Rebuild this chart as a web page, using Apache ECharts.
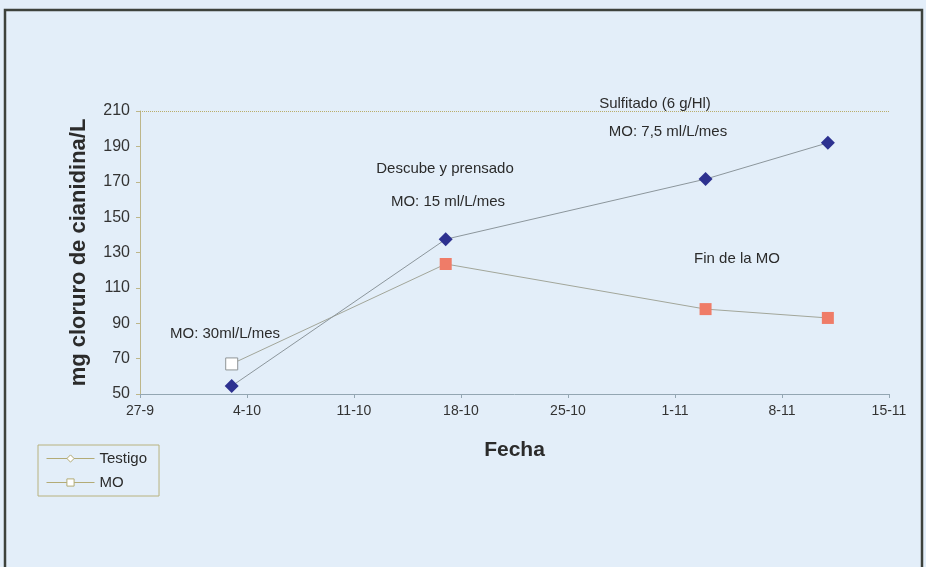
<!DOCTYPE html>
<html>
<head>
<meta charset="utf-8">
<script src="https://cdn.jsdelivr.net/npm/echarts@6/dist/echarts.min.js"></script>
<style>
  html, body { margin: 0; padding: 0; background: #e3eef9; }
  #chart { width: 926px; height: 567px; }
</style>
</head>
<body>
<div id="chart"></div>
<script>
// fechas de muestreo (dia-mes) y valores
const xTickLabels = ['27-9', '4-10', '11-10', '18-10', '25-10', '1-11', '8-11', '15-11'];
const sampleDates = ['3-10', '17-10', '3-11', '11-11'];
const testigo = [54.5, 137.5, 171.5, 192];
const mo = [67, 123.5, 98, 93];

// dias desde el 27-9
const dayOf = (s) => {
  const [d, m] = s.split('-').map(Number);
  return (Date.UTC(2000, m - 1, d) - Date.UTC(2000, 8, 27)) / 86400000;
};
const days = sampleDates.map(dayOf);

const testigoData = days.map((d, i) => [d, testigo[i]]);
const moData = days.map((d, i) => {
  if (i === 0) {
    return { value: [d, mo[i]], itemStyle: { color: '#ffffff', borderColor: '#8f9496', borderWidth: 1 } };
  }
  return [d, mo[i]];
});

const FONT = "'Liberation Sans', Arial, sans-serif";
const myChart = echarts.init(document.getElementById('chart'), null, { renderer: 'canvas' });

const note = (text, x, y) => ({
  type: 'text', x, y,
  style: {
    text, fontFamily: FONT, fontSize: 15, fill: '#2b2b2b',
    align: 'center', verticalAlign: 'middle',
  },
});

const option = {
  backgroundColor: '#e3eef9',
  animation: false,
  textStyle: { fontFamily: FONT },
  grid: { left: 140, right: 37, top: 111, bottom: 173 },
  legend: {
    left: 38, top: 445,
    orient: 'vertical',
    itemWidth: 48, itemHeight: 9, itemGap: 9,
    padding: [6, 12, 6, 8],
    borderColor: '#b8b27e', borderWidth: 1,
    textStyle: { fontSize: 15, color: '#2b2b2b', fontFamily: FONT },
    itemStyle: { color: '#ffffff', borderColor: '#b3ab76', borderWidth: 1 },
    lineStyle: { color: '#b3ab76', width: 1 },
    data: ['Testigo', 'MO'],
  },
  xAxis: {
    type: 'value',
    min: 0, max: 49, interval: 7,
    name: 'Fecha',
    nameLocation: 'middle',
    nameGap: 46,
    nameTextStyle: { fontSize: 21, fontWeight: 'bold', color: '#2b2b2b', fontFamily: FONT },
    axisLine: { lineStyle: { color: '#93a6b2', width: 1 } },
    axisTick: { show: true, length: 4, lineStyle: { color: '#93a6b2' } },
    axisLabel: {
      fontSize: 14, color: '#333', margin: 10, fontFamily: FONT,
      formatter: (v) => xTickLabels[Math.round(v / 7)],
    },
    splitLine: { show: false },
  },
  yAxis: {
    type: 'value',
    min: 50, max: 210, interval: 20,
    name: 'mg cloruro de cianidina/L',
    nameLocation: 'middle',
    nameGap: 50,
    nameTextStyle: { fontSize: 22, fontWeight: 'bold', color: '#2b2b2b', fontFamily: FONT },
    axisLine: { show: true, lineStyle: { color: '#bdb68a', width: 1 } },
    axisTick: { show: true, length: 4, lineStyle: { color: '#bdb68a' } },
    axisLabel: { fontSize: 16, color: '#333', margin: 10, fontFamily: FONT },
    splitLine: { show: false },
  },
  series: [
    {
      name: 'Testigo',
      type: 'line',
      data: testigoData,
      symbol: 'diamond',
      symbolSize: 14,
      itemStyle: { color: '#2d3190' },
      lineStyle: { color: '#8c969c', width: 1 },
      z: 3,
      markLine: {
        silent: true,
        symbol: 'none',
        label: { show: false },
        lineStyle: { color: '#b9ad6a', type: 'dotted', width: 1 },
        data: [{ yAxis: 210 }],
      },
    },
    {
      name: 'MO',
      type: 'line',
      data: moData,
      symbol: 'rect',
      symbolSize: 12,
      itemStyle: { color: '#ef7c68' },
      lineStyle: { color: '#a2a69a', width: 1 },
      z: 2,
    },
  ],
  graphic: [
    note('Sulfitado (6 g/Hl)', 655, 104),
    note('MO: 7,5 ml/L/mes', 668, 132),
    note('Descube y prensado', 445, 169),
    note('MO: 15 ml/L/mes', 448, 202),
    note('Fin de la MO', 737, 259),
    note('MO: 30ml/L/mes', 225, 334),
    {
      type: 'rect',
      shape: { x: 5, y: 10, width: 917, height: 620 },
      style: { fill: 'none', stroke: '#3d423c', lineWidth: 2.5 },
      silent: true,
    },
  ],
};

myChart.setOption(option);
</script>
</body>
</html>
